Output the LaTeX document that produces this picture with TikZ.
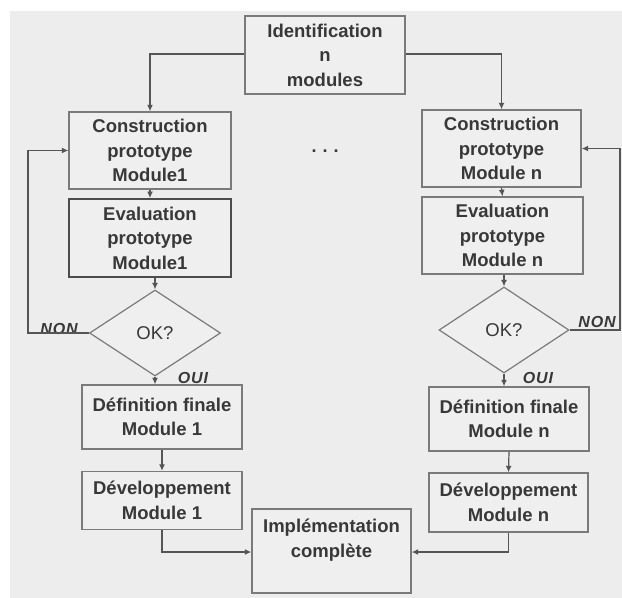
\documentclass[tikz,border=0pt]{standalone}
\usepackage{fontspec}
\setmainfont{Liberation Sans}
\usetikzlibrary{arrows.meta,shapes.geometric}
\definecolor{bgc}{HTML}{EDEDED}
\definecolor{boxc}{HTML}{EFEFEF}
\definecolor{edgec}{HTML}{7A7A7A}
\definecolor{linec}{HTML}{555555}
\definecolor{txtc}{HTML}{383838}
\tikzset{
  pbox/.style={draw=edgec, line width=1.4bp, fill=boxc, text=txtc, align=center,
    inner sep=0pt, font=\bfseries\fontsize{18.5bp}{24.5bp}\selectfont},
  okdia/.style={draw=edgec, line width=1.2bp, fill=boxc, diamond, inner sep=0pt,
    text=txtc, font=\fontsize{18.5bp}{24bp}\selectfont},
  conn/.style={draw=linec, line width=1.2bp, -{Latex[length=6.5bp,width=6bp]}},
  lbl/.style={text=txtc, inner sep=0pt,
    font=\bfseries\itshape\fontsize{16bp}{18bp}\selectfont\addfontfeature{LetterSpace=6}},
}
\begin{document}
\begin{tikzpicture}[x=1bp,y=-1bp]
\useasboundingbox (0,0) rectangle (622,598);
\fill[white] (0,0) rectangle (622,598);
\fill[bgc] (10,11) rectangle (622,598);
% nodes (centers from reference pixels)
\node[pbox, minimum width=160bp, minimum height=78bp] (id) at (325,55) {Identification\\n\\modules};
\node[pbox, minimum width=162bp, minimum height=77bp] (c1) at (150,150.5) {Construction\\prototype\\Module1};
\node[pbox, minimum width=159bp, minimum height=77bp] (c2) at (501.5,148.5) {Construction\\prototype\\Module n};
\node[text=txtc, font=\bfseries\fontsize{18bp}{20bp}\selectfont] (dots) at (325,151) {.\hspace{6bp}.\hspace{6bp}.};
\node[pbox, draw=black!70, line width=1.8bp, minimum width=162bp, minimum height=78bp] (e1) at (150,238) {Evaluation\\prototype\\Module1};
\node[pbox, minimum width=161bp, minimum height=77bp] (e2) at (502.5,235.5) {Evaluation\\prototype\\Module n};
\node[okdia, minimum width=131bp, minimum height=86bp] (d1) at (155,333) {OK?};
\node[okdia, minimum width=130bp, minimum height=86bp] (d2) at (504,330) {OK?};
\node[pbox, minimum width=160bp, minimum height=64bp] (f1) at (162,417) {Définition finale\\Module 1};
\node[pbox, minimum width=160bp, minimum height=64bp] (f2) at (509,419) {Définition finale\\Module n};
\node[pbox, minimum width=160bp, minimum height=58bp] (v1) at (162,500.5) {Développement\\Module 1};
\node[pbox, minimum width=159bp, minimum height=59bp] (v2) at (508.5,502.5) {Développement\\Module n};
\node[pbox, minimum width=159bp, minimum height=84bp] (im) at (331.5,551) {Implémentation\\complète\\[-6bp]\strut};
% labels
\node[lbl] (non1) at (59,329) {NON};
\node[lbl] (oui1) at (193,378) {OUI};
\node[lbl] (non2) at (597,322) {NON};
\node[lbl] (oui2) at (538,378) {OUI};
% connectors
\draw[conn] (id.west |- 0,54) -| (c1.north);
\draw[conn] (id.east |- 0,54) -| (c2.north);
\draw[conn] (c1.south) -- (e1.north);
\draw[conn] (c2.south) -- (e2.north);
\draw[conn] (d1.north |- e1.south) -- (d1.north);
\draw[conn] (d2.north |- e2.south) -- (d2.north);
\coordinate (l1) at (28,333);
\coordinate (l2) at (620,330);
\draw[conn] (d1.west) -- (l1) |- (c1.west);
\draw[conn] (d2.east) -- (l2) |- (c2.east);
\draw[conn] (d1.south) -- (d1.south |- f1.north);
\draw[conn] (d2.south) -- (d2.south |- f2.north);
\draw[conn] (f1.south) -- (v1.north);
\draw[conn] (f2.south) -- (v2.north);
\draw[conn] (v1.south) |- (im.west |- 0,552);
\draw[conn] (v2.south) |- (im.east |- 0,552);
\end{tikzpicture}
\end{document}
